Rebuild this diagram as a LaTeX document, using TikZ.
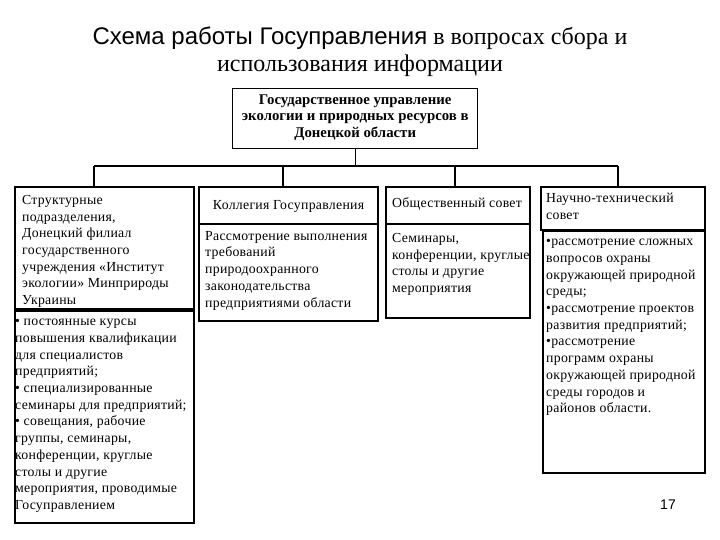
\documentclass[tikz,border=0pt]{standalone}
\usepackage{fontspec}
\setmainfont{Liberation Serif}
\newfontfamily\arialf{Liberation Sans}
\newfontfamily\spacedf[LetterSpace=2]{Liberation Serif}
\begin{document}
\begin{tikzpicture}[x=1pt,y=-1pt,
  boxA/.style={draw,line width=2.2pt,anchor=north west,inner sep=0pt},
  boxB/.style={draw,line width=1.6pt,anchor=north west,inner sep=0pt},
  txt/.style={anchor=north west,inner sep=0pt,align=left,font=\spacedf\fontsize{13.8}{16.7}\selectfont},
  conn/.style={line width=1.2pt}]
\useasboundingbox (0,0) rectangle (720,540);
% title
\node[inner sep=0pt] (t1) at (360,38) {\fontsize{24}{28}\selectfont{\arialf Схема работы Госуправления} в вопросах сбора и};
\node[inner sep=0pt] (t2) at (360,66) {\fontsize{24}{28}\selectfont использования информации};
% top box
\node[boxB,minimum width=245pt,minimum height=60pt,line width=1.4pt] (gov) at (232,88) {};
\node[inner sep=0pt,align=center,font=\fontsize{14.8}{16.5}\selectfont\bfseries] (govt) at ([yshift=1pt]gov.center) {Государственное управление\\экологии и природных ресурсов в\\Донецкой области};
% left column
\node[boxA,minimum width=179pt,minimum height=122pt] (s1) at (14,186) {};
\node[txt] (s1t) at (22,195) {Структурные\\подразделения,\\Донецкий филиал\\государственного\\учреждения «Институт\\экологии» Минприроды\\Украины};
\node[boxA,minimum width=179pt,minimum height=212pt] (s2) at (14,310) {};
\node[txt] (s2t) at (15,319) {• постоянные курсы\\повышения квалификации\\для специалистов\\предприятий;\\• специализированные\\семинары для предприятий;\\• совещания, рабочие\\группы, семинары,\\конференции, круглые\\столы и другие\\мероприятия, проводимые\\Госуправлением};
% Kollegiya
\node[boxA,minimum width=179pt,minimum height=37pt] (k1) at (198,186) {};
\node[inner sep=0pt,font=\spacedf\fontsize{13.8}{16.7}\selectfont] (k1t) at ([yshift=-1pt]k1.center) {Коллегия Госуправления};
\node[boxA,minimum width=179pt,minimum height=97pt] (k2) at (198,223) {};
\node[txt] (k2t) at (205,231) {Рассмотрение выполнения\\требований\\природоохранного\\законодательства\\предприятиями области};
% Obshchestvenny
\node[boxB,minimum width=144pt,minimum height=37pt] (o1) at (385,186) {};
\node[txt] (o1t) at (392,197) {Общественный совет};
\node[boxB,minimum width=144pt,minimum height=94pt] (o2) at (385,223) {};
\node[txt] (o2t) at (392,233) {Семинары,\\конференции, круглые\\столы и другие\\мероприятия};
% NTS
\node[boxB,minimum width=164pt,minimum height=43pt] (n1) at (540,186) {};
\node[txt] (n1t) at (546,193) {Научно-технический\\совет};
\node[boxB,minimum width=162pt,minimum height=242pt] (n2) at (542,230) {};
\node[txt] (n2t) at (546,239) {•рассмотрение сложных\\вопросов охраны\\окружающей природной\\среды;\\•рассмотрение проектов\\развития предприятий;\\•рассмотрение\\программ охраны\\окружающей природной\\среды городов и\\районов области.};
% connectors
\coordinate (b1) at (94,166);
\coordinate (b2) at (283,166);
\coordinate (b3) at (455,166);
\coordinate (b4) at (618,166);
\draw[conn] (gov.south) -- (gov.south |- b1);
\draw[conn,line width=1.5pt] (b1) -- (b4);
\draw[conn] (b1) -- (b1 |- s1.north);
\draw[conn] (b2) -- (b2 |- k1.north);
\draw[conn] (b3) -- (b3 |- o1.north);
\draw[conn] (b4) -- (b4 |- n1.north);
% page number
\node[inner sep=0pt,font=\fontsize{14}{16}\selectfont\arialf] (pg) at (668,505) {17};
\end{tikzpicture}
\end{document}
